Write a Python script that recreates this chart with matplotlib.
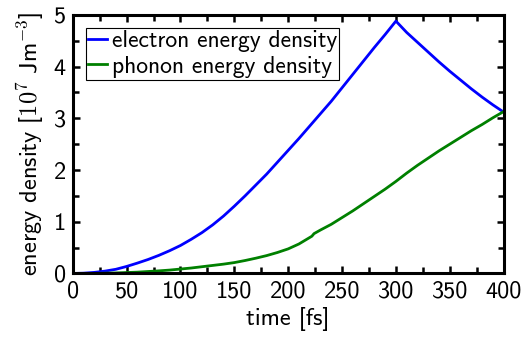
import numpy as np
import matplotlib
matplotlib.use("Agg")
import matplotlib.pyplot as plt
from matplotlib.ticker import MultipleLocator

# ---------------- data ----------------
t_el = [0, 10, 20, 30, 40, 50, 60, 70, 80, 90, 100, 110, 120, 130, 140, 150, 160,
        170, 180, 190, 200, 210, 220, 230, 240, 250, 260, 270, 280, 290, 300,
        310, 320, 330, 340, 350, 360, 370, 380, 390, 400]
e_el = [0.0, 0.005, 0.02, 0.045, 0.08, 0.135, 0.20, 0.27, 0.35, 0.44, 0.54, 0.66,
        0.79, 0.94, 1.11, 1.30, 1.50, 1.71, 1.92, 2.15, 2.38, 2.61, 2.85, 3.09, 3.33,
        3.59, 3.85, 4.11, 4.37, 4.62, 4.88,
        4.66, 4.47, 4.28, 4.09, 3.91, 3.74, 3.57, 3.41, 3.26, 3.12]

t_ph = [0, 20, 40, 60, 80, 90, 100, 110, 120, 130, 140, 150, 160, 170, 180, 190, 200,
        210, 222, 224, 230, 240, 250, 260, 270, 280, 290, 300, 310, 320, 330, 340,
        350, 360, 370, 380, 390, 400]
e_ph = [0.0, 0.0, 0.01, 0.025, 0.05, 0.065, 0.085, 0.105, 0.13, 0.155, 0.18, 0.21,
        0.25, 0.295, 0.345, 0.405, 0.475, 0.57, 0.72, 0.77, 0.84, 0.95, 1.08, 1.21,
        1.35, 1.49, 1.63, 1.78, 1.94, 2.09, 2.23, 2.37, 2.50, 2.63, 2.76, 2.88, 3.01,
        3.13]

labels = ["electron energy density", "phonon energy density"]

# ---------------- style ----------------
plt.rcParams["font.family"] = "cmss10"
plt.rcParams["mathtext.fontset"] = "cm"
plt.rcParams["axes.unicode_minus"] = False

fs = 17.5

fig = plt.figure(figsize=(5.23, 3.38), dpi=100)
ax = fig.add_axes([0.139, 0.191, 0.824, 0.765])

ax.plot(t_el, e_el, color=(0, 0, 1), lw=2.0, label=labels[0])
ax.plot(t_ph, e_ph, color=(0, 0.5, 0), lw=2.0, label=labels[1])

ax.set_xlim(0, 400)
ax.set_ylim(0, 5)
ax.xaxis.set_major_locator(MultipleLocator(50))
ax.xaxis.set_minor_locator(MultipleLocator(25))
ax.yaxis.set_major_locator(MultipleLocator(1))
ax.yaxis.set_minor_locator(MultipleLocator(0.5))
ax.tick_params(which="both", direction="in", top=True, right=True,
               width=1.8, labelsize=fs)
ax.tick_params(which="major", length=5, pad=5)
ax.tick_params(which="minor", length=4)
for s in ax.spines.values():
    s.set_linewidth(2.2)

ax.set_xlabel("time [fs]", fontsize=fs, labelpad=3)
ax.set_ylabel(r"energy density [$\mathsf{10^7\ Jm^{-3}}$]", fontsize=fs, labelpad=5)

leg = ax.legend(loc="upper left", fontsize=17, handlelength=0.8, handletextpad=0.2,
                borderpad=0.1, labelspacing=0.15, borderaxespad=0.55,
                fancybox=False, framealpha=1)
leg.get_frame().set_edgecolor("black")
leg.get_frame().set_linewidth(0.8)

fig.savefig("out.png", dpi=100)
